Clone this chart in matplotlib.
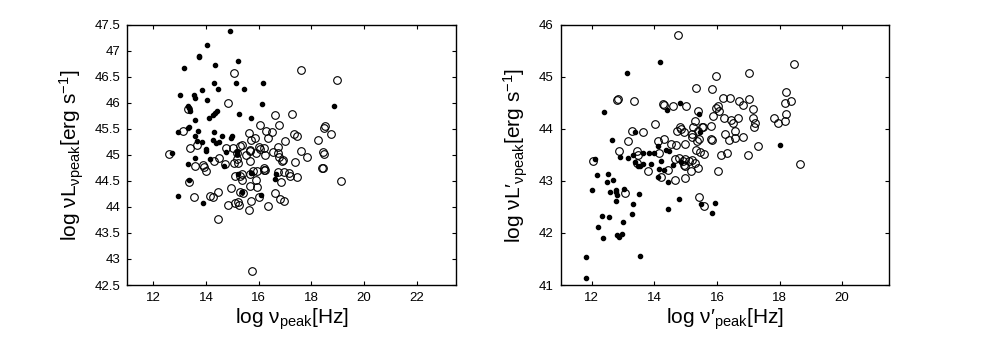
import numpy as np
import matplotlib
matplotlib.use('Agg')
import matplotlib.pyplot as plt
from matplotlib.ticker import FuncFormatter

plt.rcParams['font.family'] = ['Liberation Sans', 'DejaVu Sans']
plt.rcParams['mathtext.fontset'] = 'custom'
plt.rcParams['mathtext.rm'] = 'Liberation Sans'
plt.rcParams['mathtext.it'] = 'Liberation Sans:italic'
plt.rcParams['mathtext.bf'] = 'Liberation Sans:bold'

# левая панель: заполненные точки (log nu_peak, log nuL_nupeak)
left_fill_x = [14.92, 14.05, 13.74, 13.72, 15.23, 14.36, 13.18, 15.13, 16.15, 14.31,
               14.44, 15.45, 13.86, 13.00, 13.54, 13.60, 14.05, 16.14, 13.31, 13.36,
               13.38, 14.41, 14.36, 14.26, 14.12, 15.24, 15.71, 13.60, 18.86, 13.36,
               13.32, 12.95, 13.69, 14.31, 13.58, 14.62, 14.97, 14.95, 13.64, 13.83,
               14.28, 14.38, 14.51, 14.00, 14.00, 14.77, 15.19, 12.72, 15.19, 13.60,
               14.15, 13.33, 14.69, 13.36, 12.94, 13.87, 15.36, 15.21, 16.10, 16.65,
               16.62, 15.72]
left_fill_y = [47.38, 47.12, 46.90, 46.88, 46.80, 46.73, 46.67, 46.39, 46.39, 46.38,
               46.27, 46.26, 46.25, 46.15, 46.15, 46.10, 46.06, 45.98, 45.94, 45.90,
               45.85, 45.85, 45.80, 45.76, 45.71, 45.78, 45.72, 45.68, 45.94, 45.54,
               45.51, 45.45, 45.47, 45.45, 45.37, 45.37, 45.37, 45.32, 45.26, 45.24,
               45.28, 45.23, 45.24, 45.11, 45.08, 45.05, 45.08, 45.04, 45.01, 44.94,
               44.92, 44.82, 44.78, 44.52, 44.22, 44.07, 44.29, 44.64, 44.23, 44.63,
               44.54, 44.66]

# левая панель: пустые кружки
left_open_x = [15.06, 17.62, 18.96, 14.82, 13.33, 16.62, 17.28, 16.06, 16.79, 13.14,
               16.28, 16.51, 15.62, 16.36, 15.87, 15.72, 17.36, 17.44, 18.53, 18.47,
               18.73, 18.27, 16.99, 13.41, 13.67, 14.76, 15.03, 15.31, 15.35, 15.67,
               15.68, 15.90, 16.05, 16.21, 16.23, 16.00, 16.72, 16.54, 16.72, 16.79,
               16.88, 16.92, 12.59, 17.62, 17.82, 18.44, 18.49, 18.41, 15.17, 15.17,
               15.53, 15.67, 14.49, 14.32, 14.74, 15.05, 15.23, 13.58, 13.90, 13.94,
               13.99, 17.37, 16.95, 17.20, 16.73, 16.19, 16.23, 13.35, 13.55, 14.17,
               14.28, 14.45, 14.46, 14.85, 14.95, 15.10, 15.23, 15.26, 15.31, 15.10,
               15.28, 15.38, 15.38, 15.42, 15.62, 15.69, 15.90, 15.95, 15.72, 16.03,
               16.37, 15.68, 15.77, 15.95, 16.21, 16.62, 16.82, 16.95, 16.85, 17.17,
               17.44, 18.44, 19.14, 15.73]
left_open_y = [46.58, 46.64, 46.45, 46.00, 45.88, 45.76, 45.79, 45.57, 45.57, 45.47,
               45.47, 45.44, 45.42, 45.33, 45.33, 45.29, 45.40, 45.37, 45.56, 45.51,
               45.40, 45.28, 45.26, 45.14, 45.20, 45.14, 45.13, 45.17, 45.19, 45.10,
               45.08, 45.04, 45.12, 45.14, 44.99, 45.16, 45.15, 45.05, 45.04, 44.96,
               44.88, 44.91, 45.01, 45.08, 44.97, 45.06, 45.01, 44.74, 45.03, 44.92,
               45.00, 44.89, 44.94, 44.88, 44.82, 44.85, 44.85, 44.79, 44.81, 44.76,
               44.69, 44.86, 44.67, 44.60, 44.68, 44.74, 44.72, 44.48, 44.19, 44.22,
               44.19, 44.28, 43.76, 44.03, 44.37, 44.08, 44.10, 44.04, 44.29, 44.60,
               44.60, 44.51, 44.63, 44.26, 43.94, 44.40, 44.51, 44.38, 44.12, 44.20,
               44.02, 44.63, 44.69, 44.69, 44.72, 44.26, 44.16, 44.12, 44.48, 44.66,
               44.58, 44.74, 44.49, 42.76]

# правая панель: заполненные точки (log nu'_peak, log nuL'_nupeak)
right_fill_x = [14.19, 13.12, 12.39, 14.83, 14.41, 15.43, 13.39, 12.66, 12.90, 13.16,
                13.33, 13.63, 13.84, 13.99, 13.38, 13.46, 13.54, 13.62, 13.88, 14.10,
                14.37, 14.22, 14.46, 14.61, 14.84, 14.15, 12.09, 12.16, 12.53, 15.45,
                18.01, 12.01, 12.48, 12.59, 12.68, 12.78, 12.78, 12.82, 12.76, 12.33,
                12.20, 12.55, 12.35, 12.79, 12.87, 12.97, 13.01, 13.29, 13.31, 13.52,
                13.03, 13.55, 11.82, 11.80, 14.43, 14.77, 14.43, 15.48, 15.95, 15.85,
                14.31, 14.12]
right_fill_y = [45.28, 45.08, 44.32, 44.50, 44.37, 44.28, 43.94, 43.78, 43.46, 43.45,
                43.49, 43.54, 43.54, 43.54, 43.37, 43.28, 43.29, 43.33, 43.32, 43.68,
                43.60, 43.38, 43.58, 43.31, 43.37, 43.23, 43.42, 43.12, 43.14, 43.95,
                43.70, 42.83, 42.98, 42.78, 43.02, 42.83, 42.78, 42.73, 42.61, 42.33,
                42.12, 42.30, 41.90, 41.97, 41.93, 41.99, 42.22, 42.36, 42.55, 42.75,
                42.85, 41.56, 41.54, 41.13, 42.98, 42.66, 42.47, 42.55, 42.58, 42.39,
                43.22, 43.08]

# правая панель: пустые кружки
right_open_x = [14.76, 18.45, 17.01, 15.97, 15.34, 15.84, 12.81, 12.84, 13.34, 18.20,
                18.16, 18.37, 18.19, 18.16, 17.82, 17.96, 14.27, 14.31, 14.59, 15.01,
                16.03, 15.97, 16.20, 16.40, 16.69, 16.84, 17.01, 16.07, 15.86, 15.40,
                16.21, 16.46, 16.68, 17.15, 17.14, 17.18, 17.22, 16.52, 16.56, 15.30,
                15.51, 15.24, 15.38, 15.56, 15.80, 14.83, 14.71, 14.95, 14.85, 15.21,
                15.19, 15.43, 15.36, 15.82, 15.84, 16.26, 16.37, 16.57, 16.84, 17.31,
                14.03, 13.65, 13.28, 13.16, 14.30, 14.13, 14.52, 14.69, 14.98, 15.34,
                15.47, 15.59, 16.12, 16.31, 17.00, 18.65, 12.87, 12.05, 13.44, 13.49,
                14.16, 14.65, 14.90, 14.99, 15.20, 14.78, 14.98, 15.18, 15.39, 14.45,
                13.80, 13.44, 16.03, 15.31, 13.05, 14.20, 14.67, 14.97, 15.44, 15.59,
                14.95, 15.12]
right_open_y = [45.81, 45.24, 45.08, 45.01, 44.78, 44.76, 44.56, 44.58, 44.53, 44.71,
                44.49, 44.54, 44.28, 44.15, 44.21, 44.12, 44.48, 44.46, 44.44, 44.44,
                44.45, 44.40, 44.59, 44.60, 44.54, 44.47, 44.58, 44.35, 44.24, 44.35,
                44.21, 44.18, 44.21, 44.38, 44.21, 44.03, 44.12, 44.11, 43.96, 44.16,
                44.03, 44.03, 43.96, 44.04, 44.05, 44.04, 43.96, 43.94, 44.00, 43.90,
                43.84, 43.80, 43.76, 43.81, 43.78, 43.91, 43.79, 43.82, 43.85, 43.67,
                44.09, 43.94, 43.96, 43.76, 43.81, 43.76, 43.71, 43.69, 43.72, 43.60,
                43.56, 43.51, 43.49, 43.53, 43.49, 43.33, 43.58, 43.38, 43.57, 43.50,
                43.53, 43.42, 43.38, 43.42, 43.41, 43.44, 43.29, 43.19, 43.24, 43.21,
                43.20, 43.35, 43.19, 43.34, 42.76, 43.08, 43.01, 43.06, 42.69, 42.52,
                43.30, 43.39]

left_xticks = [12, 14, 16, 18, 20, 22]
left_yticks = [42.5, 43, 43.5, 44, 44.5, 45, 45.5, 46, 46.5, 47, 47.5]
right_xticks = [12, 14, 16, 18, 20]
right_yticks = [41, 42, 43, 44, 45, 46]


def style(ax, xt, yt):
    ax.set_xticks(xt)
    ax.set_yticks(yt)
    ax.xaxis.set_major_formatter(FuncFormatter(lambda v, p: '%g' % v))
    ax.yaxis.set_major_formatter(FuncFormatter(lambda v, p: '%g' % v))
    ax.tick_params(direction='in', top=True, right=True, length=3, width=0.8,
                   labelsize=9.5, pad=5)
    for s in ax.spines.values():
        s.set_linewidth(1.0)


fig = plt.figure(figsize=(9.81, 3.44), dpi=100)

ax1 = fig.add_axes([0.1295, 0.1715, 0.3354, 0.756])
ax1.plot(left_open_x, left_open_y, 'o', mfc='none', mec='k', ms=5.5, mew=0.8)
ax1.plot(left_fill_x, left_fill_y, 'o', color='k', ms=3)
ax1.set_xlim(11, 23.5)
ax1.set_ylim(42.5, 47.5)
style(ax1, left_xticks, left_yticks)
ax1.set_xlabel(r'log ν$_{\mathrm{peak}}$[Hz]', fontsize=15, labelpad=2)
ax1.set_ylabel(r'log νL$_{\mathrm{νpeak}}$[erg s$^{-1}$]', fontsize=15, labelpad=6)

ax2 = fig.add_axes([0.5714, 0.1715, 0.3349, 0.756])
ax2.plot(right_open_x, right_open_y, 'o', mfc='none', mec='k', ms=5.5, mew=0.8)
ax2.plot(right_fill_x, right_fill_y, 'o', color='k', ms=3)
ax2.set_xlim(11, 21.5)
ax2.set_ylim(41, 46)
style(ax2, right_xticks, right_yticks)
ax2.set_xlabel(r'log ν′$_{\mathrm{peak}}$[Hz]', fontsize=15, labelpad=2)
ax2.set_ylabel(r'log νL′$_{\mathrm{νpeak}}$[erg s$^{-1}$]', fontsize=15, labelpad=6)

fig.savefig('out.png', dpi=100)
